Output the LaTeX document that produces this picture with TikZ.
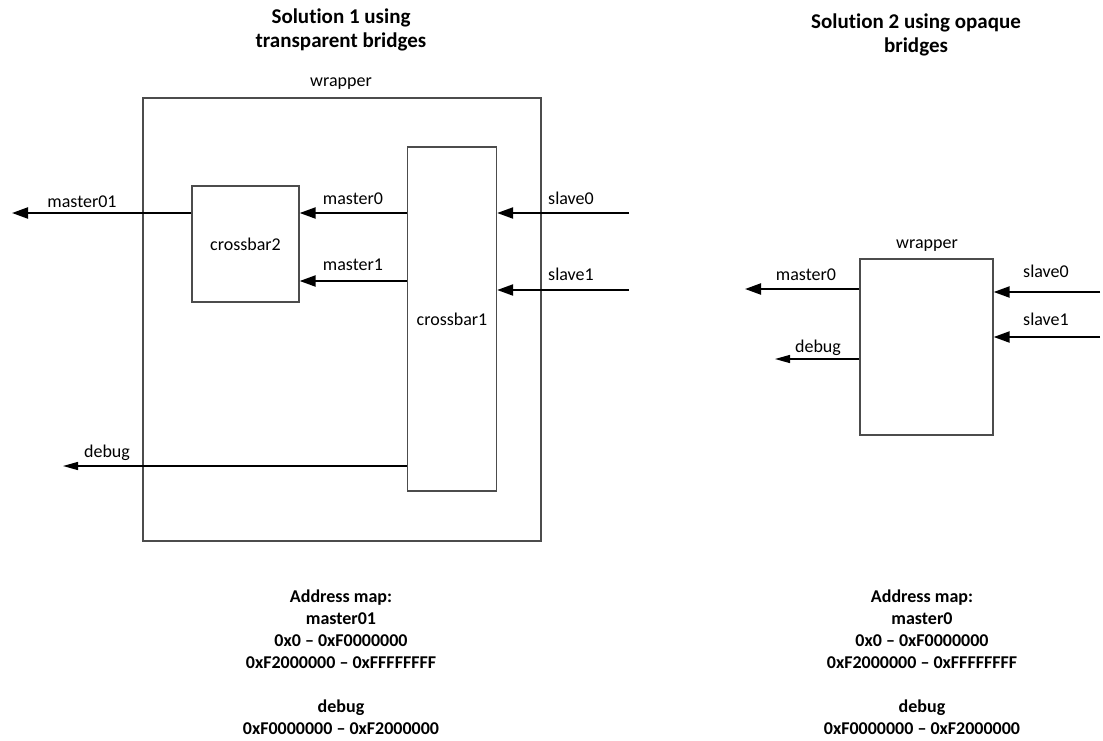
\documentclass[tikz,border=0pt]{standalone}
\usepackage{fontspec}
\setmainfont{Carlito}[Ligatures=NoCommon]
\usetikzlibrary{arrows.meta}
\begin{document}
\begin{tikzpicture}[x=1pt,y=-1pt,
    block/.style={draw=black!70,line width=1.3pt,inner sep=0pt,font=\fontsize{18}{22}\selectfont},
    bus/.style={line width=2.2pt,-{Triangle[length=16pt,width=11pt]}},
    wire/.style={line width=1.3pt,-{Triangle[length=15pt,width=8pt]}},
    lbl/.style={anchor=base,inner sep=0pt,font=\fontsize{18}{22}\selectfont},
    heading/.style={anchor=north,inner sep=0pt,align=center,font=\fontsize{21}{24}\selectfont\bfseries},
    addrmap/.style={anchor=north,inner sep=0pt,align=center,font=\fontsize{18}{22}\selectfont\bfseries}]
    \useasboundingbox (0,0) rectangle (1103,740);
    % solution 1
    \node[heading] (title1) at (341,9) {Solution 1 using\\transparent bridges};
    \node[block,minimum width=398pt,minimum height=443pt] (wrap1) at (342,319.5) {};
    \node[lbl] (wraplbl1) at (341,86) {wrapper};
    \node[block,minimum width=107pt,minimum height=116pt] (cb2) at (245.5,244) {crossbar2};
    \node[block,minimum width=89pt,minimum height=344pt] (cb1) at (452,319) {crossbar1};
    \coordinate (m01) at (12,213);
    \coordinate (m1) at (0,281);
    \coordinate (dbg1) at (63,466);
    \coordinate (s0) at (629,213);
    \coordinate (s1) at (629,290);
    \draw[bus] (cb2.west |- m01) -- (m01);
    \draw[bus] (cb1.west |- m01) -- (cb2.east |- m01);
    \draw[bus] (cb1.west |- m1) -- (cb2.east |- m1);
    \draw[bus] (s0) -- (cb1.east |- s0);
    \draw[bus] (s1) -- (cb1.east |- s1);
    \draw[wire] (cb1.west |- dbg1) -- (dbg1);
    \node[lbl] (lm01) at (82,207) {master01};
    \node[lbl] (lm0) at (353,204) {master0};
    \node[lbl] (lm1) at (353,270) {master1};
    \node[lbl] (ls0) at (571,204) {slave0};
    \node[lbl] (ls1) at (571,280) {slave1};
    \node[lbl] (ldbg1) at (107,457) {debug};
    \node[addrmap] (map1) at (341,590) {Address map:\\master01\\0x0 -- 0xF0000000\\0xF2000000 -- 0xFFFFFFFF\\[22pt]debug\\0xF0000000 -- 0xF2000000};
    % solution 2
    \node[heading] (title2) at (916,14) {Solution 2 using opaque\\bridges};
    \node[block,minimum width=133pt,minimum height=176pt] (wrap2) at (926.5,347) {};
    \node[lbl] (wraplbl2) at (927,248) {wrapper};
    \coordinate (m0r) at (745,289);
    \coordinate (dbg2) at (775,359);
    \coordinate (s0r) at (1100,292);
    \coordinate (s1r) at (1100,337);
    \draw[bus] (wrap2.west |- m0r) -- (m0r);
    \draw[wire] (wrap2.west |- dbg2) -- (dbg2);
    \draw[bus] (s0r) -- (wrap2.east |- s0r);
    \draw[bus] (s1r) -- (wrap2.east |- s1r);
    \node[lbl] (lm0r) at (806,280) {master0};
    \node[lbl] (ldbg2) at (818,352) {debug};
    \node[lbl] (ls0r) at (1046,277) {slave0};
    \node[lbl] (ls1r) at (1046,325) {slave1};
    \node[addrmap] (map2) at (922,590) {Address map:\\master0\\0x0 -- 0xF0000000\\0xF2000000 -- 0xFFFFFFFF\\[22pt]debug\\0xF0000000 -- 0xF2000000};
\end{tikzpicture}
\end{document}
